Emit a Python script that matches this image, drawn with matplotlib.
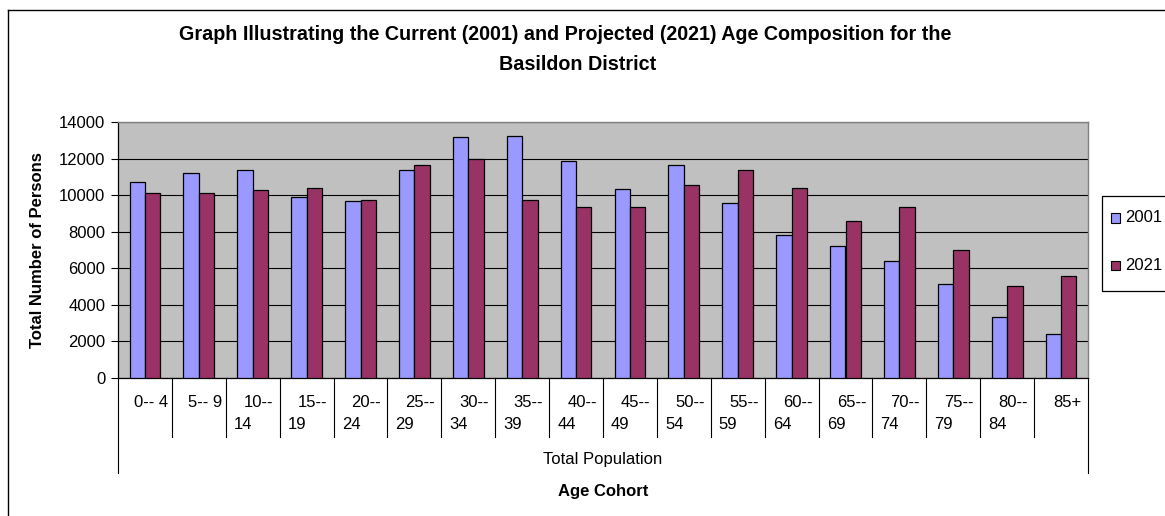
import numpy as np
import matplotlib
matplotlib.use("Agg")
import matplotlib.pyplot as plt
import matplotlib.transforms as mtransforms
from matplotlib.lines import Line2D
from matplotlib.patches import Rectangle

plt.rcParams['font.family'] = ['Liberation Sans', 'DejaVu Sans']

# age cohorts, first and second line of each label
cohort_top = ["0-- 4", "5-- 9", "10--", "15--", "20--", "25--", "30--", "35--", "40--",
              "45--", "50--", "55--", "60--", "65--", "70--", "75--", "80--", "85+"]
cohort_bottom = ["", "", "14", "19", "24", "29", "34", "39", "44",
                 "49", "54", "59", "64", "69", "74", "79", "84", ""]

# persons per cohort
pop_2001 = [10700, 11200, 11350, 9900, 9700, 11350, 13170, 13240, 11850,
            10330, 11650, 9550, 7800, 7230, 6420, 5120, 3310, 2380]
pop_2021 = [10100, 10100, 10300, 10400, 9750, 11650, 11950, 9750, 9330,
            9330, 10550, 11350, 10400, 8600, 9330, 7000, 5050, 5560]

series_names = ["2001", "2021"]
series_colors = ["#9999FF", "#993366"]
yticks = [0, 2000, 4000, 6000, 8000, 10000, 12000, 14000]

W, H = 1165, 516
fig = plt.figure(figsize=(W / 100, H / 100), dpi=100)
fig.patch.set_facecolor("white")


def fx(px):
    return px / W


def fy(py):
    # pixel rows counted from the top
    return 1 - py / H


# chart area border (runs off the right and bottom edge)
fig.add_artist(Line2D([fx(8), fx(8)], [-0.1, fy(10)], transform=fig.transFigure,
                      color="black", lw=1.0))
fig.add_artist(Line2D([fx(8), 1.1], [fy(10), fy(10)], transform=fig.transFigure,
                      color="black", lw=1.0))

ax = fig.add_axes([fx(118), fy(378), (1088 - 118) / W, (378 - 122) / H])
ax.set_facecolor("#C0C0C0")

x = np.arange(len(cohort_top))
bw = 0.286
bars = []
for k, vals in enumerate([pop_2001, pop_2021]):
    bars.append(ax.bar(x + (k - 0.5) * bw, vals, bw, color=series_colors[k],
                       edgecolor="black", linewidth=0.9, zorder=3))

ax.set_xlim(-0.5, len(cohort_top) - 0.5)
ax.set_ylim(0, 14000)
ax.set_yticks(yticks)
ax.set_yticklabels([str(v) for v in yticks], fontsize=12)
ax.tick_params(axis="y", direction="out", length=5, width=0.8, pad=4, colors="black")
ax.set_xticks([])
ax.grid(axis="y", color="black", linewidth=0.8, zorder=1)
ax.set_axisbelow(True)

for side in ["top", "right"]:
    ax.spines[side].set_color("#808080")
    ax.spines[side].set_linewidth(1.0)
for side in ["left", "bottom"]:
    ax.spines[side].set_color("black")
    ax.spines[side].set_linewidth(0.9)

# two-level category axis: separators and labels
trans = mtransforms.blended_transform_factory(ax.transData, ax.transAxes)
n = len(cohort_top)
for i in range(n + 1):
    bottom = -0.371 if i in (0, n) else -0.23
    ax.add_line(Line2D([i - 0.5, i - 0.5], [0, bottom], transform=trans,
                       color="black", lw=0.8, clip_on=False))

for i in range(n):
    ax.text(i + 0.11, -0.094, cohort_top[i], transform=trans, ha="center", va="center",
            fontsize=12)
    if cohort_bottom[i]:
        ax.text(i - 0.5 + 0.15, -0.18, cohort_bottom[i], transform=trans, ha="left",
                va="center", fontsize=12)

ax.text(0.5, -(460 - 378) / 256, "Total Population", transform=ax.transAxes,
        ha="center", va="center", fontsize=12)
ax.text(0.5, -(492 - 378) / 256, "Age Cohort", transform=ax.transAxes,
        ha="center", va="center", fontsize=12, fontweight="bold")

fig.text(fx(38), fy(250), "Total Number of Persons", rotation=90, ha="center",
         va="center", fontsize=12, fontweight="bold")

fig.text(fx(565), fy(35),
         "Graph Illustrating the Current (2001) and Projected (2021) Age Composition for the",
         ha="center", va="center", fontsize=14.2, fontweight="bold")
fig.text(fx(578), fy(64), "Basildon District", ha="center", va="center",
         fontsize=14.2, fontweight="bold")

# legend box drawn by hand so it can run past the right edge like the chart area
fig.add_artist(Rectangle((fx(1102), fy(291)), fx(80), (291 - 196) / H,
                         transform=fig.transFigure, facecolor="white",
                         edgecolor="black", lw=0.9))
for k, name in enumerate(series_names):
    row = 218 + 47 * k
    fig.add_artist(Rectangle((fx(1111), fy(row + 4.5)), fx(9), 9 / H,
                             transform=fig.transFigure, facecolor=series_colors[k],
                             edgecolor="black", lw=0.8))
    fig.text(fx(1125), fy(row), name, ha="left", va="center", fontsize=12)

fig.savefig("out.png", dpi=100)
